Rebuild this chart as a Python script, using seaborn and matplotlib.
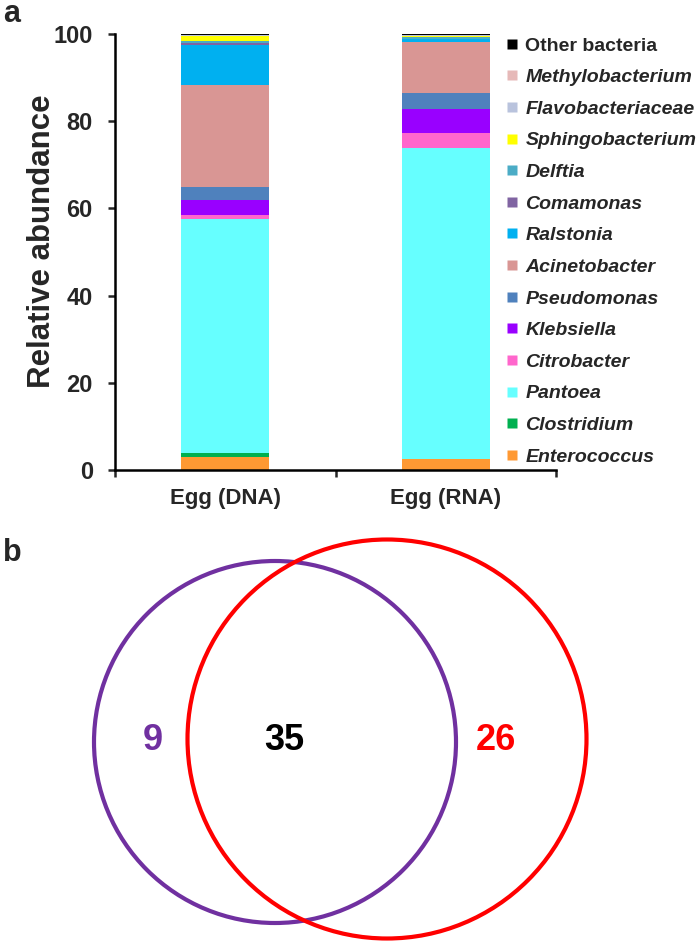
import matplotlib
matplotlib.use("Agg")
import matplotlib.pyplot as plt
from matplotlib.patches import Circle
from matplotlib.lines import Line2D
import numpy as np
import pandas as pd
import seaborn as sns

# ---------------- data ----------------
samples = ["Egg (DNA)", "Egg (RNA)"]
taxa = ["Enterococcus", "Clostridium", "Pantoea", "Citrobacter", "Klebsiella",
        "Pseudomonas", "Acinetobacter", "Ralstonia", "Comamonas", "Delftia",
        "Sphingobacterium", "Flavobacteriaceae", "Methylobacterium", "Other bacteria"]
dna_values = [3.0, 0.8, 53.7, 1.1, 3.3, 3.1, 23.3, 9.2, 0.4, 0.6, 1.0, 0.2, 0.1, 0.2]
rna_values = [2.45, 0.05, 71.3, 3.4, 5.5, 3.7, 11.8, 0.6, 0.1, 0.3, 0.4, 0.1, 0.1, 0.2]
taxa_colors = ["#FF9933", "#00B050", "#66FFFF", "#FF66CC", "#9900FF",
               "#4F81BD", "#D99694", "#00B0F0", "#8064A2", "#4BACC6",
               "#FFFF00", "#B9C3DD", "#E6B9B8", "#000000"]

venn_labels = ["9", "35", "26"]
venn_colors = ["#7030A0", "#000000", "#FF0000"]

# ---------------- style ----------------
sns.set_theme(style="white")
plt.rcParams["font.family"] = ["Liberation Sans", "DejaVu Sans"]
plt.rcParams["font.weight"] = "bold"

W, H = 700, 944
fig = plt.figure(figsize=(W / 100, H / 100), dpi=100)

# ---------------- panel a ----------------
axl, axr, axt, axb = 115, 556, 34, 470
ax = fig.add_axes([axl / W, 1 - axb / H, (axr - axl) / W, (axb - axt) / H])

df = pd.DataFrame({"sample": np.repeat(samples, len(taxa)),
                   "taxon": taxa * len(samples),
                   "value": dna_values + rna_values})
df["cum"] = df.groupby("sample")["value"].cumsum()

for i in range(len(taxa) - 1, -1, -1):
    sub = df[df["taxon"] == taxa[i]]
    sns.barplot(data=sub, x="sample", y="cum", color=taxa_colors[i],
                width=0.4, ax=ax, saturation=1, order=samples,
                edgecolor="none", linewidth=0)

ax.set_xlim(-0.5, 1.5)
ax.set_ylim(0, 100)
ax.set_yticks([0, 20, 40, 60, 80, 100])
ax.tick_params(axis="y", which="major", direction="out", length=5, width=1.8,
               pad=11, labelsize=17, left=True)
for lab in ax.get_yticklabels():
    lab.set_fontweight("bold")

ax.set_xticks([-0.5, 0.5, 1.5])
ax.set_xticklabels(["", "", ""])
ax.tick_params(axis="x", which="major", direction="out", length=5, width=1.8, bottom=True)
ax.set_xticks([0, 1], minor=True)
ax.set_xticklabels(samples, minor=True)
ax.tick_params(axis="x", which="minor", length=0, pad=13, labelsize=16)
for lab in ax.get_xticklabels(minor=True):
    lab.set_fontweight("bold")
ax.set_xlabel("")
ax.set_ylabel("Relative abundance", fontsize=22.5, fontweight="bold")
ax.yaxis.set_label_coords((57 - axl) / (axr - axl), (axb - 241) / (axb - axt))

for s in ["top", "right"]:
    ax.spines[s].set_visible(False)
for s in ["left", "bottom"]:
    ax.spines[s].set_linewidth(1.8)
    ax.spines[s].set_color("black")

handles = [Line2D([0], [0], marker="s", linestyle="none", markersize=7.5,
                  markerfacecolor=taxa_colors[i], markeredgecolor="none")
           for i in range(len(taxa) - 1, -1, -1)]
labels = [taxa[i] for i in range(len(taxa) - 1, -1, -1)]
leg = fig.legend(handles, labels, loc="upper left",
                 bbox_to_anchor=(504 / W, 1 - 37 / H), frameon=False,
                 prop={"weight": "bold", "size": 14}, handlelength=0.8,
                 handletextpad=0.3, labelspacing=0.72, borderpad=0, borderaxespad=0)
for t in leg.get_texts():
    if t.get_text() != "Other bacteria":
        t.set_fontstyle("italic")

fig.text(3 / W, 1 - 14 / H, "a", fontsize=22, fontweight="bold", va="center", ha="left")

# ---------------- panel b ----------------
ax2 = fig.add_axes([0, 0, 1, 472 / H])
ax2.set_xlim(0, W)
ax2.set_ylim(H, H - 472)
ax2.axis("off")
ax2.add_patch(Circle((275, 742), 181, fill=False, edgecolor=venn_colors[0], linewidth=3))
ax2.add_patch(Circle((387, 739), 199.5, fill=False, edgecolor=venn_colors[2], linewidth=3))
for x, lab, c in zip([153, 284, 496], venn_labels, venn_colors):
    ax2.text(x, 741, lab, color=c, fontsize=26, fontweight="bold", ha="center", va="center")

fig.text(3 / W, 1 - 553 / H, "b", fontsize=22, fontweight="bold", va="center", ha="left")

fig.savefig("out.png", dpi=100, facecolor="white")
